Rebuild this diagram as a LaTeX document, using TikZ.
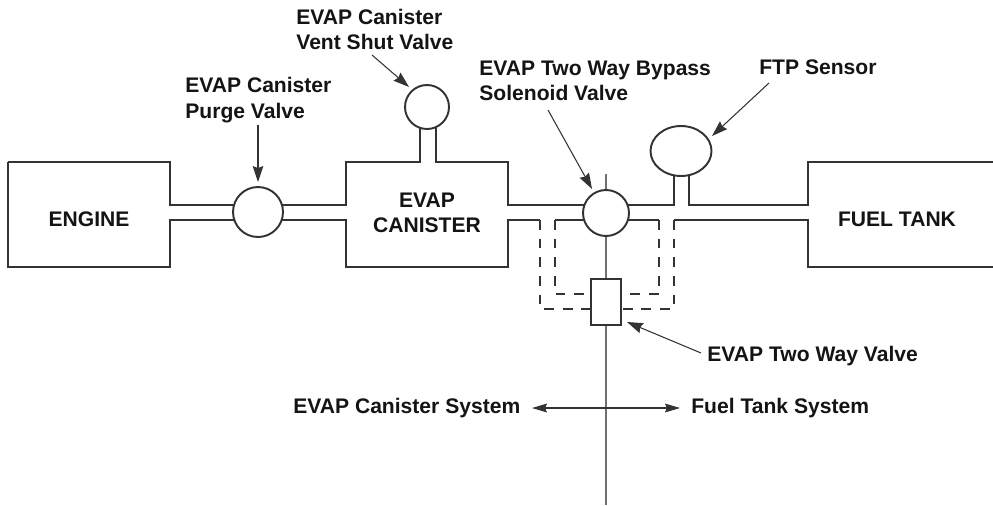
\documentclass[tikz,border=0pt]{standalone}
\usepackage{fontspec}
\setmainfont{Liberation Sans}
\usepackage{tikz}
\usetikzlibrary{arrows.meta,shapes.geometric}

\definecolor{pipecolor}{gray}{0.2}
\tikzset{
 pipe/.style={pipecolor, line width=0.6pt},
 tube/.style={pipecolor!70, line width=0.8pt},
 dashpipe/.style={pipecolor, line width=0.6pt, dash pattern=on 5.6pt off 5pt},
 valve/.style={circle, draw=pipecolor, fill=white, line width=1.1pt, inner sep=0pt},
 pointer/.style={pipecolor, line width=0.6pt, -{Stealth[length=9pt,width=6pt,inset=1pt]}},
 pointertwo/.style={pipecolor, line width=0.6pt, {Stealth[length=8.5pt,width=5pt,inset=1pt]}-{Stealth[length=8.5pt,width=5pt,inset=1pt]}},
 label/.style={anchor=west, align=left, text=black!92, font=\bfseries\fontsize{12}{14.5}\selectfont, inner sep=0pt},
 boxlabel/.style={align=center, text=black!92, font=\bfseries\fontsize{12}{14.5}\selectfont, inner sep=0pt}
}

\begin{document}
\begin{tikzpicture}[x=0.02cm, y=-0.02cm]
 \useasboundingbox (0,0) rectangle (993,505);

 % outlines
 \draw[pipe] (8,162) -- (170,162) -- (170,205) -- (346,205) -- (346,162) -- (420,162) -- (420,120);
 \draw[pipe] (8,162) -- (8,267) -- (170,267) -- (170,220) -- (346,220) -- (346,267) -- (508,267) -- (508,220) -- (540,220);
 \draw[pipe] (436,120) -- (436,162) -- (508,162) -- (508,205) -- (674,205) -- (674,170);
 \draw[pipe] (689,170) -- (689,205) -- (808,205) -- (808,162) -- (993,162);
 \draw[pipe] (555,220) -- (659,220);
 \draw[pipe] (674,220) -- (808,220) -- (808,267) -- (993,267);

 % return lines
 \draw[dashpipe] (540,220) -- (540,309) -- (591,309);
 \draw[dashpipe] (555,220) -- (555,294) -- (591,294);
 \draw[dashpipe] (659,220) -- (659,294) -- (621,294);
 \draw[dashpipe] (674,220) -- (674,309) -- (621,309);

 % divider
 \coordinate (dividertop) at (606,174);
 \coordinate (dividerend) at (606,505);
 \draw[tube] (dividertop) -- (dividerend);

 % valves
 \node (purgevalve) at (258,212)[valve, minimum width=1cm, minimum height=0.96cm]{};
 \node (ventvalve) at (427,107)[valve, minimum size=0.88cm]{};
 \node (bypassvalve) at (606,213)[valve, minimum size=0.92cm]{};
 \node (ftpsensor) at (681,151)[draw=pipecolor, fill=white, line width=1.1pt, inner sep=0pt, ellipse, minimum width=1.22cm, minimum height=1cm]{};
 \node (twowayvalve) at (606,302)[draw=pipecolor, fill=white, line width=0.8pt, minimum width=0.6cm, minimum height=0.92cm, inner sep=0pt]{};

 % labels
 \node (enginelabel) at (89,219)[boxlabel]{ENGINE};
 \node (canisterlabel) at (427,213)[boxlabel]{EVAP\\CANISTER};
 \node (tanklabel) at (897,219)[boxlabel]{FUEL TANK};
 \node (purgelabel) at (185,100)[label]{EVAP Canister\\Purge Valve};
 \node (ventlabel) at (296,29.5)[label]{EVAP Canister\\Vent Shut Valve};
 \node (bypasslabel) at (479,81)[label]{EVAP Two Way Bypass\\Solenoid Valve};
 \node (ftplabel) at (759,67.5)[label]{FTP Sensor};
 \node (twowaylabel) at (707,356)[label]{EVAP Two Way Valve};
 \node (canistersys) at (293,408)[label]{EVAP Canister System};
 \node (tanksys) at (691,408)[label]{Fuel Tank System};

 % pointers
 \coordinate (purgetail) at (258,125);
 \coordinate (purgetip) at (258,182);
 \coordinate (venttail) at (372,55);
 \coordinate (venttip) at (409,87);
 \coordinate (bypasstail) at (548,110);
 \coordinate (bypasstip) at (592,189);
 \coordinate (ftptail) at (769,83);
 \coordinate (ftptip) at (712,136);
 \coordinate (twowaytail) at (701,353);
 \coordinate (twowaytip) at (627,322);
 \coordinate (systemleft) at (532,408);
 \coordinate (systemright) at (680,408);
 \draw[pointer] (purgetail) -- (purgetip);
 \draw[pointer] (venttail) -- (venttip);
 \draw[pointer] (bypasstail) -- (bypasstip);
 \draw[pointer] (ftptail) -- (ftptip);
 \draw[pointer] (twowaytail) -- (twowaytip);
 \draw[pointertwo] (systemleft) -- (systemright);
\end{tikzpicture}
\end{document}
